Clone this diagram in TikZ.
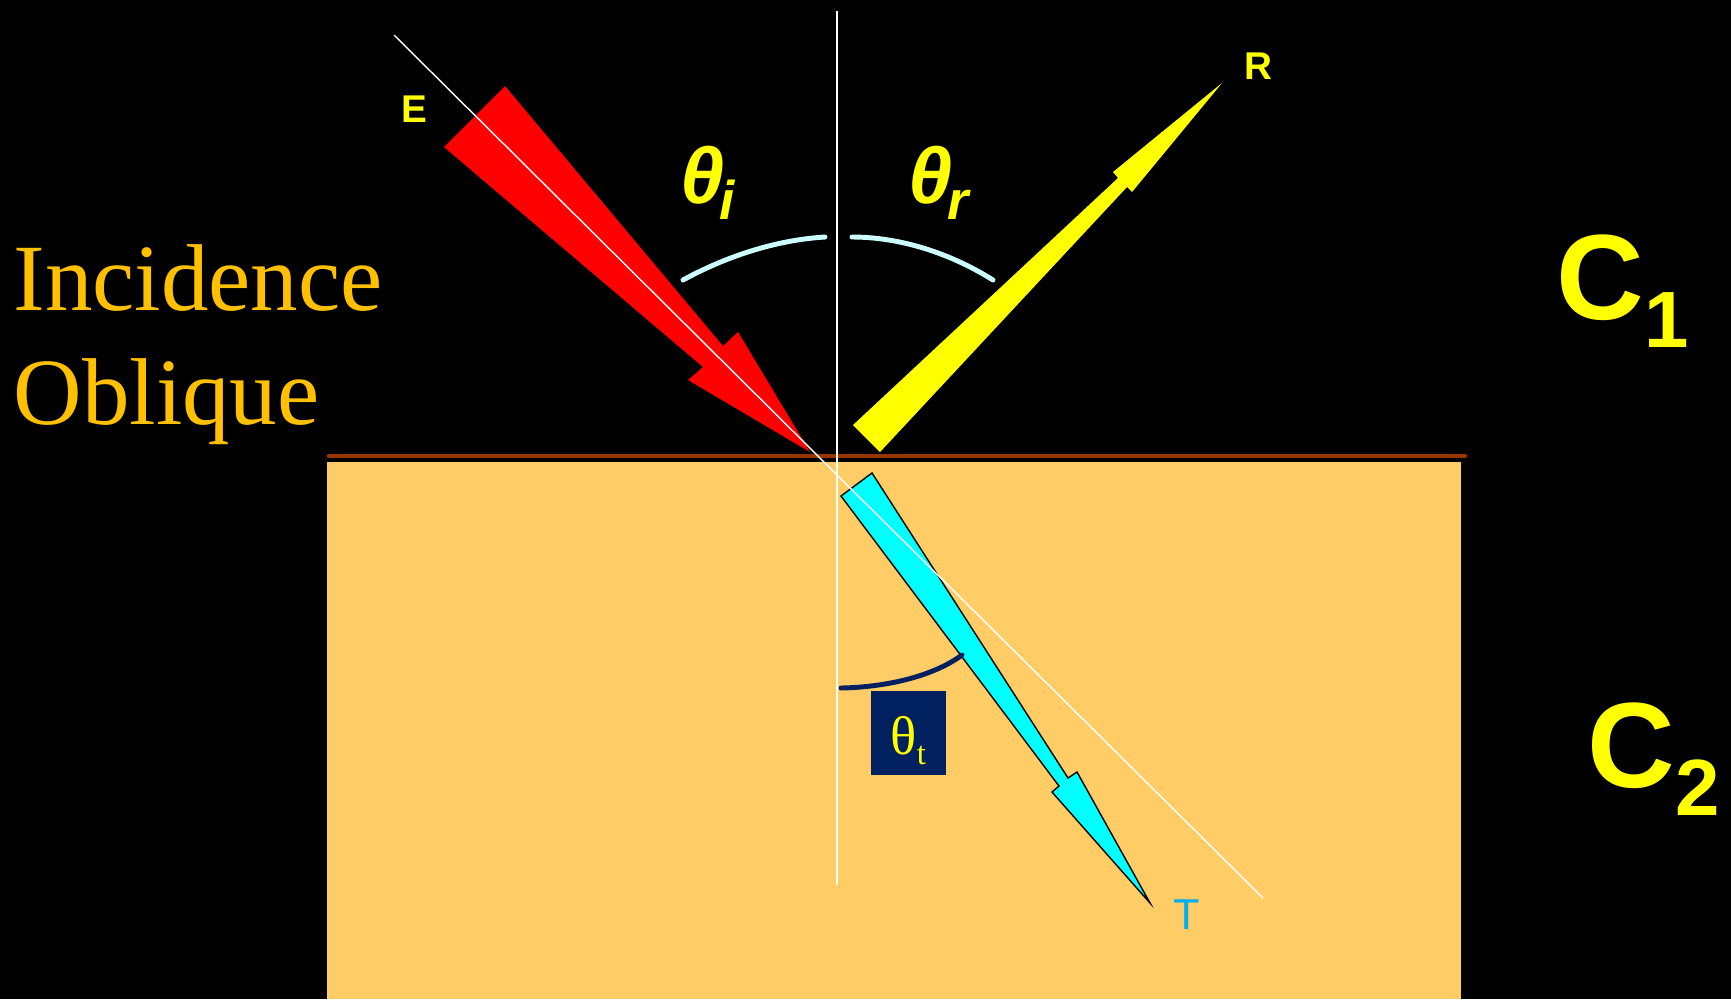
\documentclass[tikz,border=0pt]{standalone}
\usepackage{fontspec}
\setmainfont{Liberation Serif}
\setsansfont{Liberation Sans}
\definecolor{gold}{RGB}{255,192,0}
\definecolor{rayyellow}{RGB}{255,255,0}
\definecolor{raycyan}{RGB}{0,255,255}
\definecolor{medium}{RGB}{255,204,102}
\definecolor{interface}{RGB}{153,51,0}
\definecolor{arclight}{RGB}{204,255,255}
\definecolor{boxnavy}{RGB}{0,32,96}
\definecolor{tblue}{RGB}{0,176,240}
\newcommand{\angsub}[1]{\kern-1.5pt\raisebox{-4.7pt}{\fontsize{15.5}{15.5}\selectfont #1}}
\newcommand{\medsub}[1]{\raisebox{-8pt}{\fontsize{22.7}{22.7}\selectfont #1}}

\begin{document}
\begin{tikzpicture}[x=0.01cm, y=-0.01cm,
  every node/.style={inner sep=0pt},
  raylabel/.style={font=\sffamily\bfseries\fontsize{11}{11}\selectfont, text=rayyellow},
  anglabel/.style={font=\sffamily\bfseries\itshape\fontsize{22.5}{22.5}\selectfont, text=rayyellow, anchor=base west},
  medlabel/.style={font=\sffamily\bfseries\fontsize{34.5}{34.5}\selectfont, text=rayyellow, anchor=base west},
  titletext/.style={font=\fontsize{27}{27}\selectfont, text=gold, anchor=base west},
  guide/.style={white, line width=0.4pt},
  anglearc/.style={line width=1.4pt, line cap=round}]
% background and the two media
\fill[black] (0,0) rectangle (1731,999);
\fill[medium] (327,462) rectangle (1461,999);
\draw[interface, line width=1.4pt, line cap=round] (329,456) -- (1465,456);

% Title
\node[titletext] (incid) at (13,310) {Incidence};
\node[titletext] (obliq) at (13,424) {Oblique};

% Incident ray (red)
\fill[red] (505,86) -- (723,346) -- (738,332) -- (810,452) -- (688,380) -- (703,367) -- (444,147) -- cycle;
% Reflected ray (yellow)
\fill[rayyellow] (853,425) -- (1118,178) -- (1113,172) -- (1222,83) -- (1132,192) -- (1127,187) -- (880,452) -- cycle;
% Transmitted ray (cyan)
\filldraw[fill=raycyan, draw=black, line width=0.4pt] (872,473) -- (1068,778) -- (1077,772) -- (1150,903) -- (1052,792) -- (1059,786) -- (841,496) -- cycle;

% Normal and incidence direction
\coordinate (ntop) at (837,11);
\coordinate (nbot) at (837,885);
\coordinate (dtop) at (394,35);
\coordinate (dbot) at (1263,898);
\draw[guide] (ntop) -- (nbot);
\draw[guide] (dtop) -- (dbot);

% Angle arcs
\draw[anglearc, arclight] (683,280) .. controls (725,257) and (775,240) .. (825,237);
\draw[anglearc, arclight] (852,237) .. controls (895,237) and (945,250) .. (993,280);
\draw[anglearc, boxnavy] (841,688) .. controls (890,687) and (935,675) .. (962,655);

% Labels
\node[raylabel] (lblE) at (414,109) {E};
\node[raylabel] (lblR) at (1258,66) {R};
\node[font=\sffamily\fontsize{12.3}{12.3}\selectfont, text=tblue] (lblT) at (1186.5,914.5) {T};
\node[anglabel] (thi) at (680,203) {θ\angsub{i}};
\node[anglabel] (thr) at (908,203) {θ\angsub{r}};
\node[fill=boxnavy, minimum width=0.75cm, minimum height=0.84cm] (tbox) at (908.5,733) {};
\node[anchor=base west, text=rayyellow, font=\fontsize{15.5}{15.5}\selectfont] (tht) at (890,754) {θ\raisebox{-3.1pt}{\fontsize{9.3}{9.3}\selectfont t}};
\node[medlabel] (c1) at (1556,319) {C\medsub{1}};
\node[medlabel] (c2) at (1587,787) {C\medsub{2}};
\end{tikzpicture}
\end{document}
